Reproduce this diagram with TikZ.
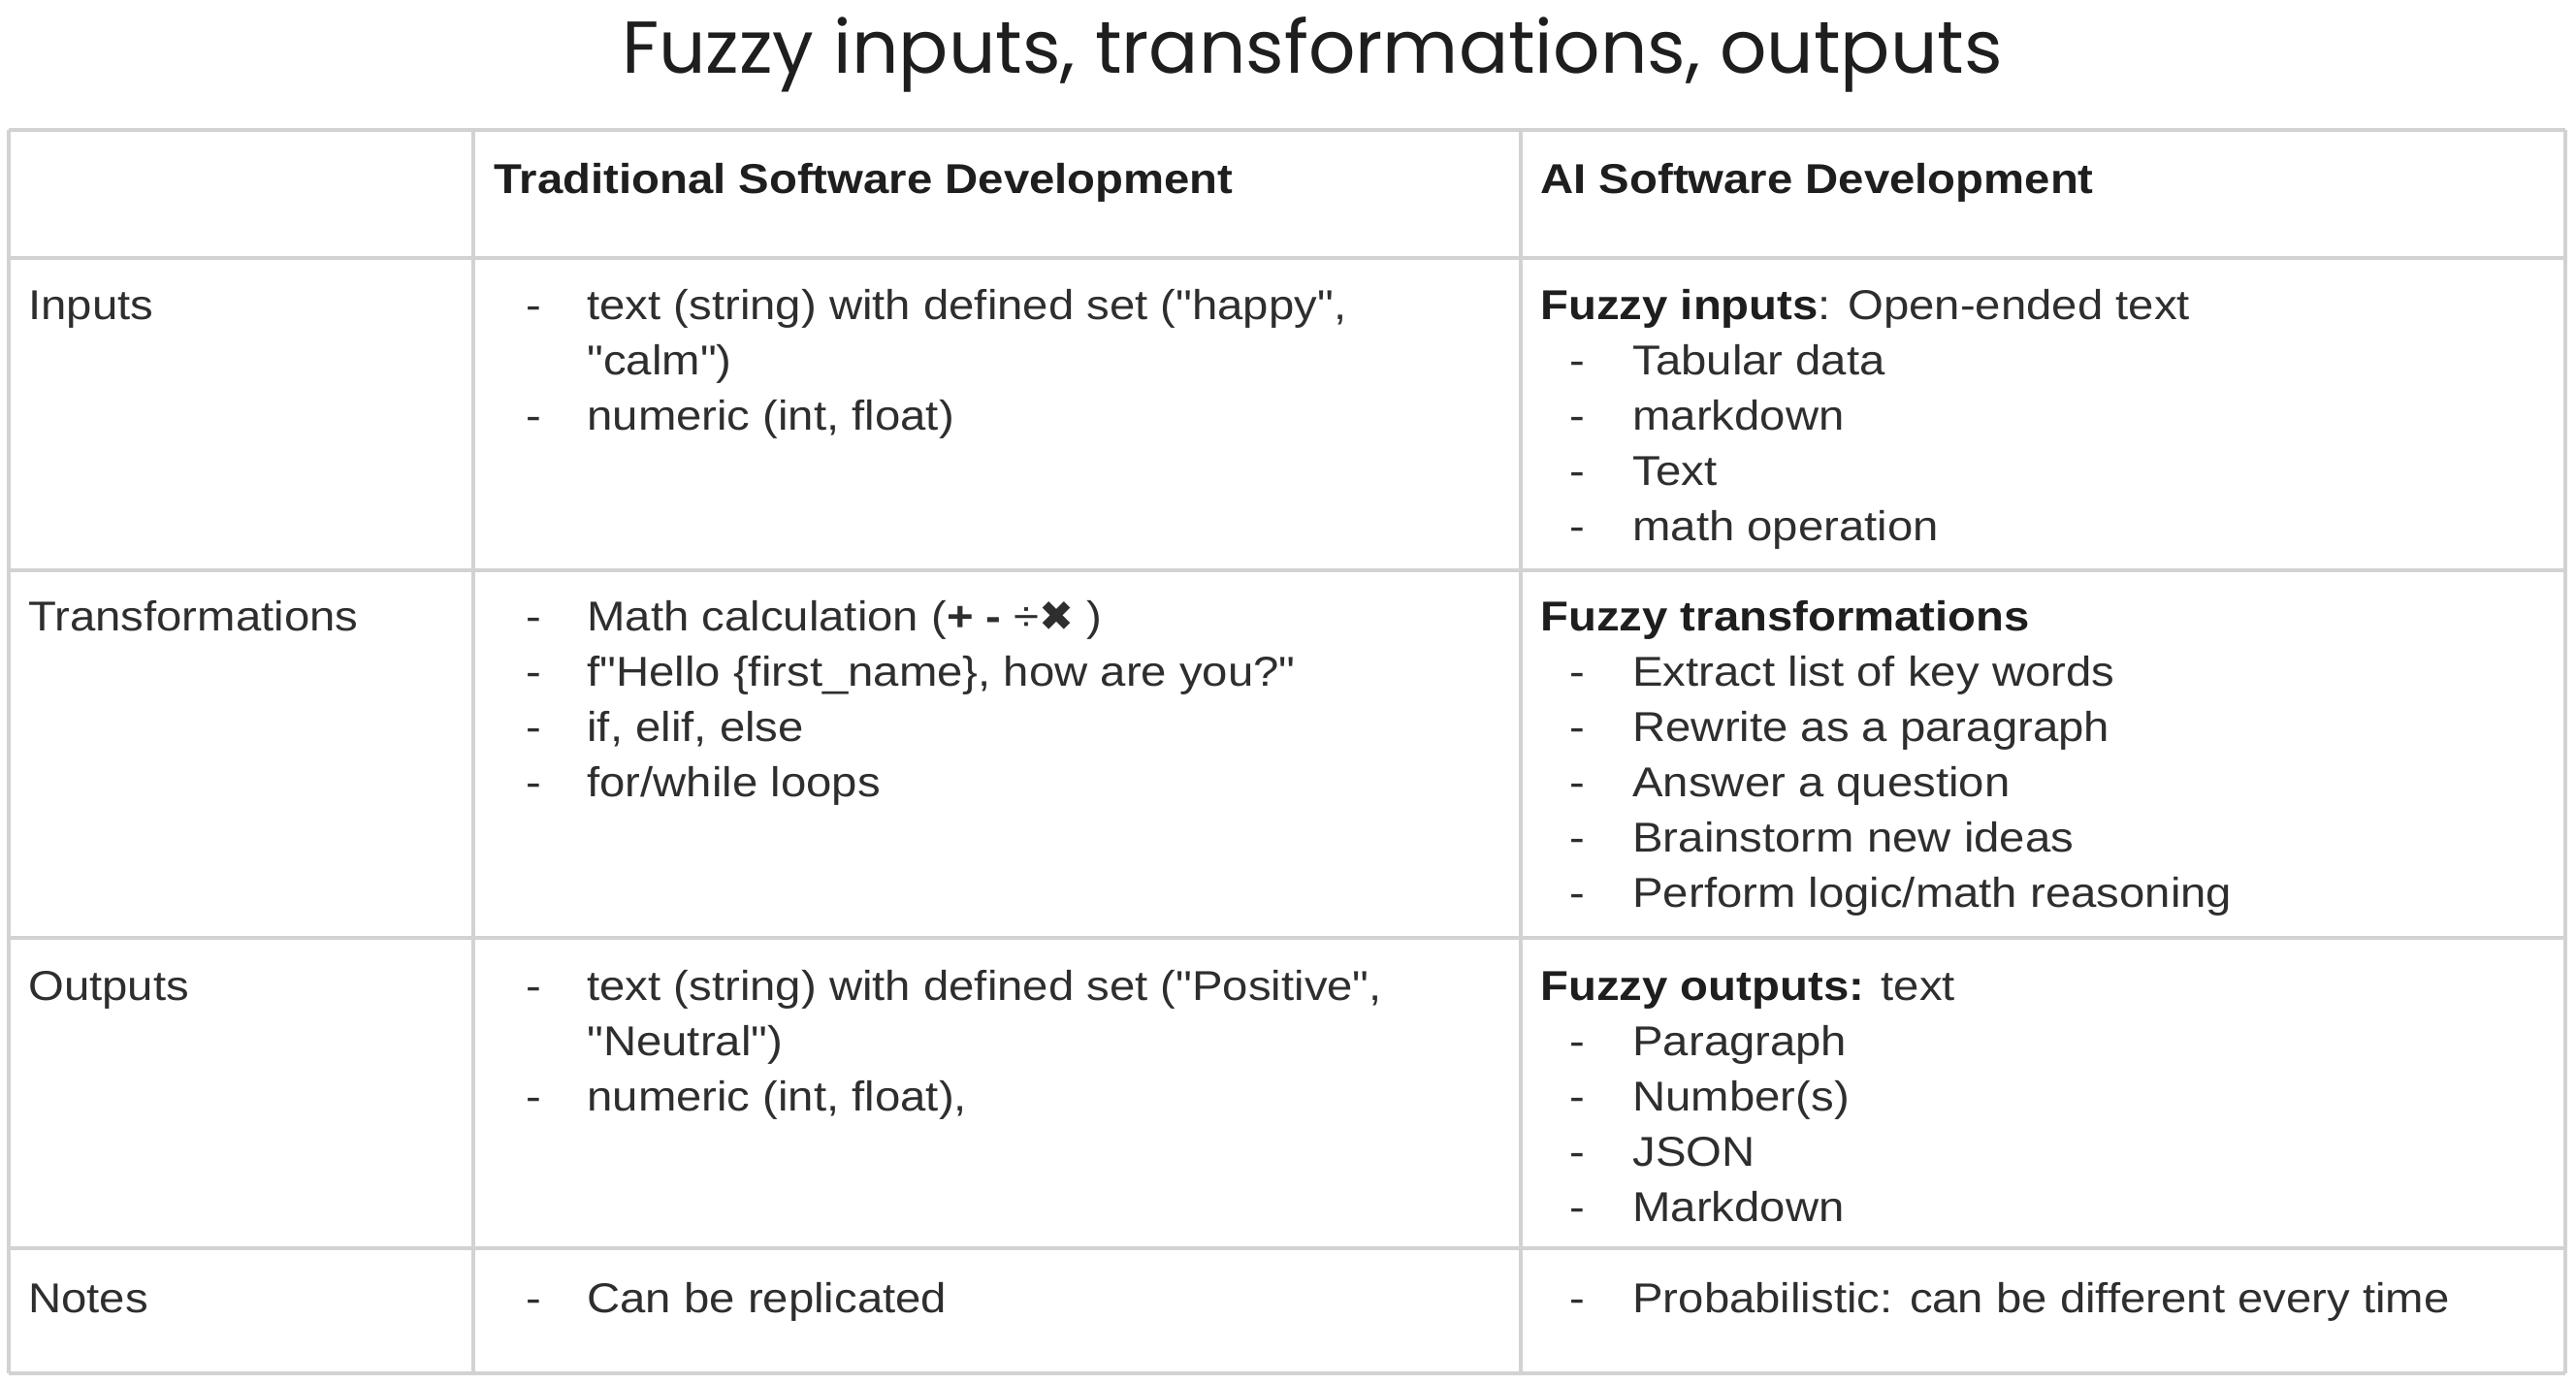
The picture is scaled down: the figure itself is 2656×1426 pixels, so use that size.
\documentclass[tikz,border=0pt]{standalone}
\usepackage{fontspec}
\setmainfont[FakeStretch=1.1,Ligatures=TeXOff]{Liberation Sans}
\newfontfamily\titlefont{Poppins}
\newfontfamily\symfont{DejaVu Sans}
\definecolor{gridc}{HTML}{D2D2D2}
\definecolor{txt}{HTML}{2E2E2E}
\definecolor{ttl}{HTML}{1E1E1E}
\begin{document}
\begin{tikzpicture}[x=0.5pt,y=-0.5pt,
  cell/.style={anchor=base west,inner sep=0pt,text=txt,font=\fontsize{21.5}{28.5}\selectfont},
  hdr/.style={cell,text=ttl,font=\fontsize{21.5}{28.5}\selectfont\bfseries},
  dashmark/.style={cell},
  gridline/.style={draw=gridc,line width=1.6pt},
  titlestyle/.style={anchor=base,inner sep=0pt,text=ttl,font=\titlefont\fontsize{37.9}{44}\selectfont}]
\useasboundingbox[fill=white] (0,0) rectangle (2656,1426);
% grid
\foreach \yy in {134,266,588,967,1287,1416}
  \draw[gridline] (9,\yy) -- (2645,\yy);
\foreach \xx in {9,488,1568,2645}
  \draw[gridline] (\xx,134) -- (\xx,1416);
% title
\node[titlestyle] (title) at (1353,75) {Fuzzy inputs, transformations, outputs};
% headers
\node[hdr] (h1) at (509,199) {Traditional Software Development};
\node[hdr] (h2) at (1588,199) {AI Software Development};
% row labels
\node[cell] (r1) at (29,329) {Inputs};
\node[cell] (r2) at (29,650) {Transformations};
\node[cell] (r3) at (29,1031) {Outputs};
\node[cell] (r4) at (29,1353) {Notes};
% column 1 : inputs
\node[dashmark] (a1d1) at (542,329) {-};
\node[cell] (a1t1) at (605,329) {text (string) with defined set ("happy",};
\node[cell] (a1t1b) at (605,386) {"calm")};
\node[dashmark] (a1d2) at (542,443) {-};
\node[cell] (a1t2) at (605,443) {numeric (int, float)};
% column 1 : transformations
\node[dashmark] (a2d1) at (542,650) {-};
\node[cell] (a2t1) at (605,650) {Math calculation ({\bfseries+ -} ÷{\symfont\bfseries ✖} )};
\node[dashmark] (a2d2) at (542,707) {-};
\node[cell] (a2t2) at (605,707) {f"Hello \{first\_name\}, how are you?"};
\node[dashmark] (a2d3) at (542,764) {-};
\node[cell] (a2t3) at (605,764) {if, elif, else};
\node[dashmark] (a2d4) at (542,821) {-};
\node[cell] (a2t4) at (605,821) {for/while loops};
% column 1 : outputs
\node[dashmark] (a3d1) at (542,1031) {-};
\node[cell] (a3t1) at (605,1031) {text (string) with defined set ("Positive",};
\node[cell] (a3t1b) at (605,1088) {"Neutral")};
\node[dashmark] (a3d2) at (542,1145) {-};
\node[cell] (a3t2) at (605,1145) {numeric (int, float),};
% column 1 : notes
\node[dashmark] (a4d1) at (542,1353) {-};
\node[cell] (a4t1) at (605,1353) {Can be replicated};
% column 2 : inputs
\node[cell] (b1h) at (1588,329) {{\bfseries\color{ttl}Fuzzy inputs}: Open-ended text};
\node[dashmark] (b1d1) at (1618,386) {-};
\node[cell] (b1t1) at (1683,386) {Tabular data};
\node[dashmark] (b1d2) at (1618,443) {-};
\node[cell] (b1t2) at (1683,443) {markdown};
\node[dashmark] (b1d3) at (1618,500) {-};
\node[cell] (b1t3) at (1683,500) {Text};
\node[dashmark] (b1d4) at (1618,557) {-};
\node[cell] (b1t4) at (1683,557) {math operation};
% column 2 : transformations
\node[hdr] (b2h) at (1588,650) {Fuzzy transformations};
\node[dashmark] (b2d1) at (1618,707) {-};
\node[cell] (b2t1) at (1683,707) {Extract list of key words};
\node[dashmark] (b2d2) at (1618,764) {-};
\node[cell] (b2t2) at (1683,764) {Rewrite as a paragraph};
\node[dashmark] (b2d3) at (1618,821) {-};
\node[cell] (b2t3) at (1683,821) {Answer a question};
\node[dashmark] (b2d4) at (1618,878) {-};
\node[cell] (b2t4) at (1683,878) {Brainstorm new ideas};
\node[dashmark] (b2d5) at (1618,935) {-};
\node[cell] (b2t5) at (1683,935) {Perform logic/math reasoning};
% column 2 : outputs
\node[cell] (b3h) at (1588,1031) {{\bfseries\color{ttl}Fuzzy outputs:} text};
\node[dashmark] (b3d1) at (1618,1088) {-};
\node[cell] (b3t1) at (1683,1088) {Paragraph};
\node[dashmark] (b3d2) at (1618,1145) {-};
\node[cell] (b3t2) at (1683,1145) {Number(s)};
\node[dashmark] (b3d3) at (1618,1202) {-};
\node[cell] (b3t3) at (1683,1202) {JSON};
\node[dashmark] (b3d4) at (1618,1259) {-};
\node[cell] (b3t4) at (1683,1259) {Markdown};
% column 2 : notes
\node[dashmark] (b4d1) at (1618,1353) {-};
\node[cell] (b4t1) at (1683,1353) {Probabilistic: can be different every time};
\end{tikzpicture}
\end{document}
